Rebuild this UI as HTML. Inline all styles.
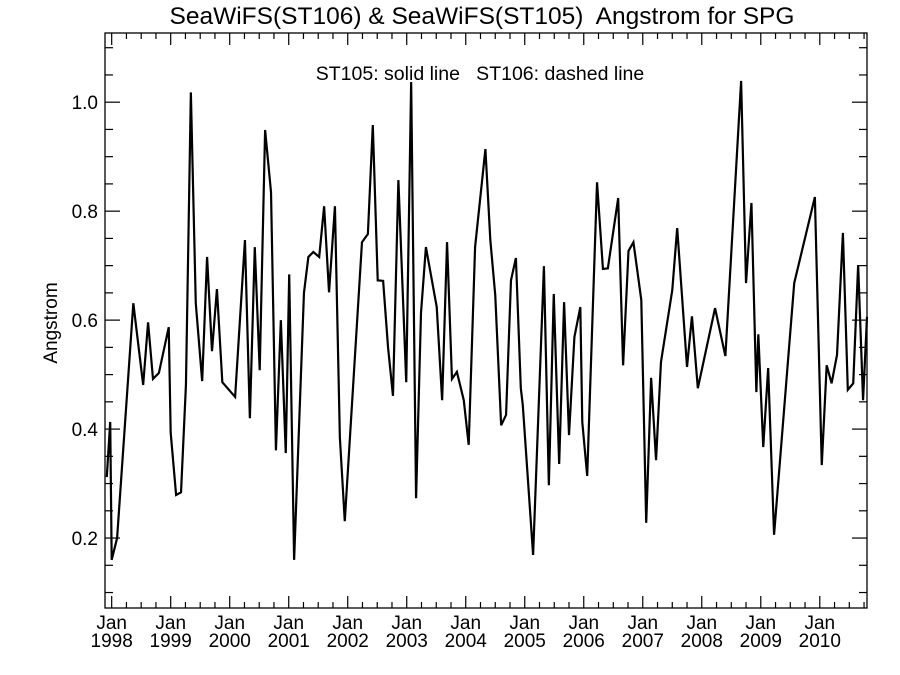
<!DOCTYPE html>
<html><head><meta charset="utf-8"><style>
html,body{margin:0;padding:0;background:#fff;}
svg{display:block;font-family:"Liberation Sans",sans-serif;}
</style></head><body>
<svg id="chart" width="900" height="675" viewBox="0 0 900 675" xmlns="http://www.w3.org/2000/svg">
<rect x="0" y="0" width="900" height="675" fill="#fff"/>
<text x="482" y="24" font-size="24.5" text-anchor="middle" xml:space="preserve">SeaWiFS(ST106) &amp; SeaWiFS(ST105)  Angstrom for SPG</text>
<text x="480" y="80" font-size="19.5" text-anchor="middle" xml:space="preserve">ST105: solid line   ST106: dashed line</text>
<text x="57" y="323" font-size="19" text-anchor="middle" transform="rotate(-90 57 323)">Angstrom</text>
<g id="axes"></g>
<g id="series"></g>
</svg>
<script>
// data: month index from Jan 1998, Angstrom value
const months=[-1.0,-0.3,0.0,1.1,4.4,6.4,7.4,8.4,9.6,11.6,12.0,13.1,14.1,15.1,16.1,17.1,18.4,19.4,20.4,21.4,22.5,25.1,27.1,28.1,29.1,30.1,31.2,32.4,33.4,34.4,35.4,36.1,37.1,39.1,40.0,41.0,42.2,43.2,44.2,45.4,46.4,47.4,50.9,52.1,53.1,54.1,55.2,56.2,57.2,58.3,59.9,60.9,61.9,62.9,63.9,66.1,67.2,68.2,69.2,70.2,71.6,72.6,73.9,76.0,77.0,78.0,79.2,80.2,81.2,82.2,83.2,83.6,85.7,87.9,88.9,89.9,91.0,92.0,93.0,94.1,95.3,95.7,96.7,98.7,99.9,100.9,103.0,104.0,105.1,106.1,107.7,108.7,109.7,110.7,111.7,114.0,115.0,117.0,118.0,119.2,122.7,124.8,128.0,129.0,130.1,131.1,131.5,132.5,133.5,134.7,138.8,143.0,144.4,145.4,146.4,147.5,148.7,149.7,150.8,151.8,152.8,153.6];
const st105=[0.312,0.413,0.160,0.200,0.631,0.481,0.596,0.492,0.503,0.587,0.393,0.279,0.284,0.481,1.018,0.631,0.488,0.716,0.543,0.657,0.486,0.459,0.747,0.420,0.734,0.508,0.949,0.835,0.361,0.600,0.356,0.684,0.160,0.650,0.716,0.725,0.716,0.809,0.651,0.809,0.385,0.231,0.743,0.758,0.958,0.673,0.672,0.550,0.461,0.857,0.486,1.037,0.273,0.613,0.734,0.624,0.453,0.743,0.492,0.505,0.453,0.371,0.734,0.914,0.747,0.646,0.407,0.426,0.673,0.714,0.475,0.444,0.169,0.699,0.297,0.648,0.336,0.633,0.389,0.569,0.624,0.413,0.314,0.853,0.694,0.695,0.824,0.517,0.727,0.743,0.637,0.228,0.494,0.343,0.523,0.655,0.769,0.514,0.607,0.475,0.622,0.534,1.039,0.668,0.815,0.468,0.574,0.367,0.512,0.206,0.668,0.826,0.334,0.517,0.484,0.536,0.760,0.472,0.484,0.701,0.453,0.606];
const yTicks=[0.2,0.4,0.6,0.8,1.0];
const yTickLabels=["0.2","0.4","0.6","0.8","1.0"];
const xYears=[1998,1999,2000,2001,2002,2003,2004,2005,2006,2007,2008,2009,2010];

const L=105,R=867,T=33,B=608;
const xMin=-1.36,xMax=153.6,yMin=0.0716,yMax=1.127;
const sx=m=>L+(m-xMin)/(xMax-xMin)*(R-L);
const sy=v=>B-(v-yMin)/(yMax-yMin)*(B-T);
const NS="http://www.w3.org/2000/svg";
const axes=document.getElementById('axes');
const series=document.getElementById('series');
function mk(tag,attrs,parent){const e=document.createElementNS(NS,tag);for(const k in attrs)e.setAttribute(k,attrs[k]);parent.appendChild(e);return e;}

const frame=mk('rect',{x:L,y:T,width:R-L,height:B-T,fill:'none',stroke:'#000','stroke-width':1.3},axes);



for(let v=0.1;v<=1.1001;v+=0.05){
  const major=yTicks.some(t=>Math.abs(t-v)<1e-6);
  const len=major?15:8;const y=sy(v);
  const t1=mk('line',{x1:L,x2:L+len,y1:y,y2:y,stroke:'#000','stroke-width':1.2},axes);
  
  
  const t2=mk('line',{x1:R,x2:R-len,y1:y,y2:y,stroke:'#000','stroke-width':1.2},axes);
  
  
}
yTicks.forEach((v,i)=>{
  const t=mk('text',{x:L-7,y:sy(v)+7,'font-size':19,'text-anchor':'end'},axes);
  t.textContent=yTickLabels[i];
  
  
});
for(let m=0;m<=xMax;m+=3){
  const major=m%12===0;const len=major?12:6;const x=sx(m);
  const a=mk('line',{x1:x,x2:x,y1:B,y2:B-len,stroke:'#000','stroke-width':1.2},axes);
  
  
  const b=mk('line',{x1:x,x2:x,y1:T,y2:T+len,stroke:'#000','stroke-width':1.2},axes);
  
  
}
xYears.forEach((yr,i)=>{
  const x=sx(i*12);
  const j=mk('text',{x:x,y:629,'font-size':19,'text-anchor':'middle'},axes);
  j.textContent='Jan';
  
  
  const t=mk('text',{x:x,y:647,'font-size':19,'text-anchor':'middle'},axes);
  t.textContent=String(yr);
  
  
});
const pts=months.map((m,i)=>sx(Math.max(xMin,Math.min(xMax,m)))+','+sy(st105[i])).join(' ');
const line=mk('polyline',{points:pts,fill:'none',stroke:'#000','stroke-width':2.2,'stroke-linejoin':'miter'},series);


</script>
</body></html>
